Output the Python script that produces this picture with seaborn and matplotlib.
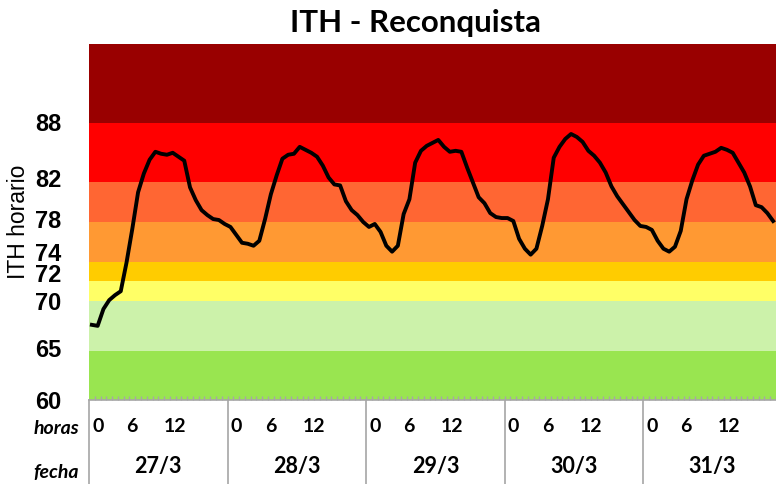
import matplotlib
matplotlib.use("Agg")
import matplotlib.pyplot as plt
import matplotlib.transforms as mtransforms
import numpy as np
import pandas as pd
import seaborn as sns

# ---- data ----
ith = [67.6, 67.5, 69.2, 70.1, 70.6, 71.0, 73.9, 77.3, 81.0, 82.9, 84.3, 85.1,
       84.9, 84.8, 85.0, 84.6, 84.2, 81.5, 80.2, 79.2, 78.7, 78.3, 78.2, 77.8,
       77.5, 76.7, 75.9, 75.8, 75.6, 76.1, 78.3, 80.8, 82.7, 84.4, 84.8, 84.9,
       85.6, 85.3, 85.0, 84.6, 83.7, 82.5, 81.8, 81.7, 80.1, 79.2, 78.7, 78.0,
       77.5, 77.8, 77.0, 75.6, 75.0, 75.6, 78.8, 80.3, 84.0, 85.2, 85.7, 86.0,
       86.3, 85.6, 85.1, 85.2, 85.1, 83.5, 82.0, 80.5, 79.9, 78.9, 78.5, 78.4,
       78.4, 78.1, 76.3, 75.3, 74.7, 75.3, 77.6, 80.3, 84.5, 85.6, 86.4, 86.9,
       86.6, 86.1, 85.2, 84.7, 84.0, 83.0, 81.6, 80.6, 79.8, 79.0, 78.2, 77.6,
       77.5, 77.2, 76.1, 75.3, 75.0, 75.5, 77.1, 80.3, 82.2, 83.8, 84.7, 84.9,
       85.1, 85.5, 85.3, 85.0, 84.0, 83.0, 81.6, 79.7, 79.5, 78.9, 78.1]
dates = ["27/3", "28/3", "29/3", "30/3", "31/3"]
hour_labels = ["0", "6", "12"]
band_edges = [60, 65, 70, 72, 74, 78, 82, 88, 96]
band_colors = ["#99E550", "#CCF2AA", "#FFFF66", "#FFCC00", "#FF9933",
               "#FF6633", "#FF0000", "#990000"]
ytick_vals = [60, 65, 70, 72, 74, 78, 82, 88]

df = pd.DataFrame({"hora": np.arange(len(ith)), "ITH": ith})

W, H = 776, 484
fig = plt.figure(figsize=(W / 100, H / 100), dpi=100)
ax = fig.add_axes([89 / W, (H - 400) / H, (W - 89) / W, (400 - 44) / H])

for lo, hi, c in zip(band_edges[:-1], band_edges[1:], band_colors):
    ax.axhspan(lo, hi, color=c, lw=0, zorder=0)

sns.lineplot(data=df, x="hora", y="ITH", ax=ax, color="black", linewidth=2.8,
             zorder=3)

ax.set_xlim(-0.5, len(ith) - 0.5)
ax.set_ylim(band_edges[0], band_edges[-1])

for s in ["top", "right", "left"]:
    ax.spines[s].set_visible(False)
ax.spines["bottom"].set_color("#A6A6A6")
ax.spines["bottom"].set_linewidth(1.2)

# x ticks: small grey inner ticks at each hour boundary
ax.set_xticks([])
ax.set_xticks(np.arange(len(ith)) + 0.5, minor=True)
ax.tick_params(axis="x", which="minor", direction="in", length=3,
               color="#A6A6A6", width=1)
ax.set_xlabel("")

# y ticks
ax.set_yticks(ytick_vals)
ax.set_yticklabels([str(v) for v in ytick_vals])
ax.tick_params(axis="y", length=0, pad=20)
offsets_px = {60: 0, 65: 3, 70: 0, 72: 8, 74: 10, 78: 3, 82: 4, 88: 1}
for lab, v in zip(ax.get_yticklabels(), ytick_vals):
    lab.set_fontfamily("Liberation Sans")
    lab.set_fontweight("bold")
    lab.set_fontsize(17)
    lab.set_transform(lab.get_transform() +
                      mtransforms.ScaledTranslation(0, offsets_px[v] / 100,
                                                    fig.dpi_scale_trans))

ax.set_ylabel("ITH horario", fontfamily="Liberation Sans", fontsize=16.5)
ax.yaxis.set_label_coords(-0.086, 0.5)

fig.text(415 / W, 1 - 23 / H, "ITH - Reconquista", ha="center", va="center",
         fontfamily="Lato", fontweight="bold", fontsize=22.5)

# table below the axis
trans = mtransforms.blended_transform_factory(ax.transData, ax.transAxes)
y_bottom = -(484 - 400) / 356
for d in range(len(dates) + 1):
    xb = d * 24 - 0.5
    if xb <= len(ith) - 0.5:
        ax.plot([xb, xb], [0, y_bottom], transform=trans, color="#A6A6A6",
                lw=1.2, clip_on=False)

y_h = -(427 - 400) / 356
y_f = -(466 - 400) / 356
h_off = [1.06, 6.95, 14.4]
for d, dl in enumerate(dates):
    for hl, off in zip(hour_labels, h_off):
        ax.text(d * 24 + off, y_h, hl, transform=trans, ha="center",
                va="center", fontfamily="Lato", fontweight="bold",
                fontsize=14)
    ax.text(d * 24 + 11.5, y_f, dl, transform=trans, ha="center",
            va="center", fontfamily="Lato", fontweight="bold", fontsize=15.5)

fig.text(79 / W, 1 - 428 / H, "horas", ha="right", va="center",
         fontfamily="Lato", fontweight="bold", style="italic", fontsize=14)
fig.text(79 / W, 1 - 472 / H, "fecha", ha="right", va="center",
         fontfamily="Lato", fontweight="bold", style="italic", fontsize=14)

fig.savefig("out.png", dpi=100)
